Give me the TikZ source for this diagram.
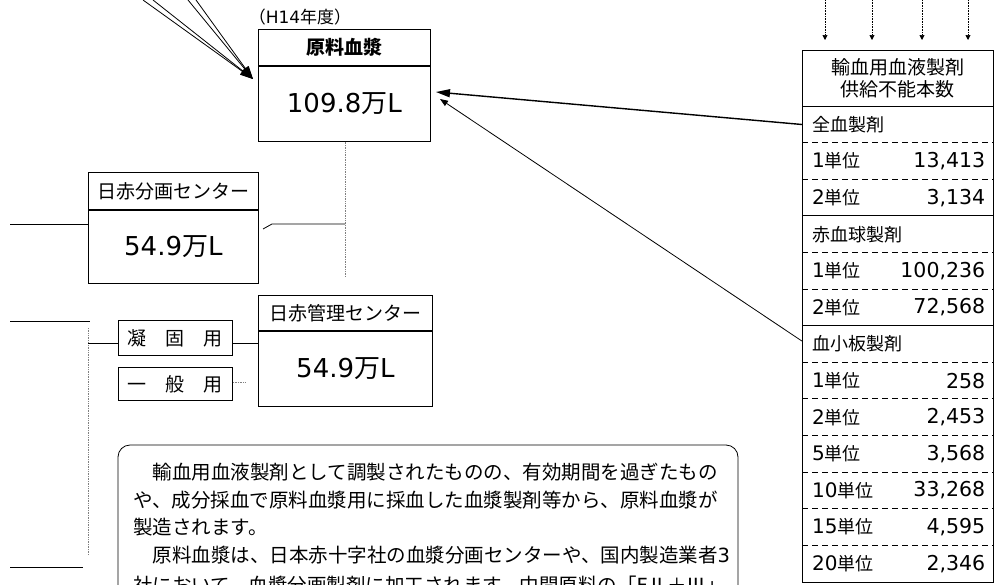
\documentclass[tikz,border=0pt]{standalone}
\usepackage{fontspec}
\setmainfont{Noto Sans CJK JP}
\newfontfamily\num{DejaVu Sans}
\usetikzlibrary{arrows.meta}
\tikzset{
  box/.style={draw, line width=0.8pt, inner sep=0pt, font=\fontsize{19}{22}\selectfont},
  big/.style={font=\fontsize{26}{30}\selectfont},
  cell/.style={inner sep=0pt, minimum width=191, minimum height=36.6, anchor=north west},
  celltext/.style={inner sep=0pt, font=\fontsize{18}{21}\selectfont},
  thinline/.style={line width=0.8pt},
  dots/.style={densely dotted, line width=0.7pt, gray},
  arr/.style={line width=0.8pt, -{Triangle[length=13pt,width=8pt]}},
  thickarr/.style={line width=1.4pt, -{Triangle[length=14pt,width=8pt]}},
  smallarr/.style={densely dotted, line width=0.6pt, -{Triangle[length=5pt,width=5pt]}},
  para/.style={anchor=west, inner sep=0pt, font=\fontsize{19.5}{23}\selectfont}
}
\begin{document}
\begin{tikzpicture}[x=1pt,y=-1pt]
\useasboundingbox (0,0) rectangle (999,584);
\fill[white] (0,0) rectangle (999,584);

% ---- main box 原料血漿
\node[inner sep=0pt, font=\fontsize{17}{19}\selectfont] (year) at (300,17) {（{\num H14}年度）};
\node[box, minimum width=172, minimum height=36, anchor=north west] (gh) at (258,29) {\bfseries 原料血漿};
\node[box, big, minimum width=172, minimum height=75, anchor=north] (gb) at (gh.south) {{\num 109.8}万{\num L}};

% ---- 日赤分画センター
\node[box, minimum width=170, minimum height=37, anchor=north west] (bh) at (88,172) {日赤分画センター};
\node[box, big, minimum width=170, minimum height=73, anchor=north] (bb) at (bh.south) {{\num 54.9}万{\num L}};

% ---- 日赤管理センター
\node[box, minimum width=174, minimum height=35, anchor=north west] (kh) at (258,295) {日赤管理センター};
\node[box, big, minimum width=174, minimum height=75, anchor=north] (kb) at (kh.south) {{\num 54.9}万{\num L}};

% ---- 凝固用 / 一般用
\node[box, minimum width=114, minimum height=35, anchor=north west] (gy) at (118,320) {凝\hspace{1em}固\hspace{1em}用};
\node[box, minimum width=114, minimum height=33, anchor=north west] (ip) at (118,367) {一\hspace{1em}般\hspace{1em}用};

% ---- table
\node[box, minimum width=191, minimum height=56, anchor=north west, align=center,
      font=\fontsize{19}{22}\selectfont] (th) at (802,50) {輸血用血液製剤\\供給不能本数};
\foreach \i/\a/\u/\b in {
  1//全血製剤/, 2/1/単位/13{,}413, 3/2/単位/3{,}134,
  4//赤血球製剤/, 5/1/単位/100{,}236, 6/2/単位/72{,}568,
  7//血小板製剤/, 8/1/単位/258, 9/2/単位/2{,}453, 10/5/単位/3{,}568,
  11/10/単位/33{,}268, 12/15/単位/4{,}595, 13/20/単位/2{,}346}{
  \node[cell] (r\i) at (802,{106+(\i-1)*36.6}) {};
  \node[celltext, anchor=west] (rl\i) at ([xshift=10]r\i.west) {{\num\fontsize{20}{22}\selectfont \a}\u};
  \node[celltext, anchor=east, font=\num\fontsize{20.5}{23}\selectfont] (rv\i) at ([xshift=-8]r\i.east) {\b};
}
\draw[thinline] (th.north west) rectangle (r13.south east);
\foreach \i in {1,4,7}{\draw[thinline] (r\i.north west) -- (r\i.north east);}
\foreach \i in {2,3,5,6,8,9,10,11,12,13}{\draw[thinline, dash pattern=on 6pt off 4pt] (r\i.north west) -- (r\i.north east);}

% ---- dotted arrows above table
\foreach \x [count=\k] in {825,872,922,968}{
  \coordinate (ts\k) at (\x,0);
  \coordinate (te\k) at (\x,40);
  \draw[smallarr] (ts\k) -- (te\k);
}

% ---- arrows into main box
\coordinate (tipA) at (253,79);
\foreach \x [count=\k] in {143,153,188,196}{
  \coordinate (sa\k) at (\x,0);
  \draw[arr] (sa\k) -- (tipA);
}
\coordinate (tipB) at (436,92);
\draw[thickarr] (r1.west) -- (tipB);
\coordinate (tipC) at (440,99);
\coordinate (r7a) at ([yshift=3]r7.west);
\draw[line width=0.8pt, -{Triangle[length=8pt,width=6pt]}] (r7a) -- (tipC);

% ---- dotted vertical from main box
\coordinate (dv) at (345,277);
\draw[dots] (gb.south -| dv) -- (dv);
\coordinate (m0) at (263,229);
\coordinate (m1) at (272,224);
\coordinate (m2) at (345,224);
\draw[thinline] (m0) -- (m1) -- (m2);

% ---- left lines
\coordinate (la) at (10,224);
\draw[thinline] (la) -- (la -| bb.west);
\coordinate (lb) at (10,321);
\coordinate (lb2) at (90,321);
\draw[thinline] (lb) -- (lb2);
\coordinate (dl1) at (88,328);
\coordinate (dl2) at (88,555);
\draw[dots] (dl1) -- (dl2);
\coordinate (lc) at (88,343);
\draw[thinline] (lc) -- (lc -| gy.west);
\draw[thinline] (gy.east |- lc) -- (lc -| kb.west);
\coordinate (ld) at (245,382);
\draw[dots] (ld -| ip.east) -- (ld);
\coordinate (le) at (10,567);
\coordinate (le2) at (83,567);
\draw[thinline] (le) -- (le2);

% ---- explanatory rounded box
\begin{scope}
\clip (0,0) rectangle (999,584);
\draw[thinline, rounded corners=12pt] (118,600) -- (118,445) -- (738,445) -- (738,600);
\node[para] (p1) at (133,472) {\hspace{1em}輸血用血液製剤として調製されたものの、有効期間を過ぎたもの};
\node[para] (p2) at (133,500) {や、成分採血で原料血漿用に採血した血漿製剤等から、原料血漿が};
\node[para] (p3) at (133,527) {製造されます。};
\node[para] (p4) at (133,555) {\hspace{1em}原料血漿は、日本赤十字社の血漿分画センターや、国内製造業者{\num 3}};
\node[para] (p5) at (133,585) {社において、血漿分画製剤に加工されます。中間原料の「{\num F}Ⅱ＋Ⅲ」};
\end{scope}
\end{tikzpicture}
\end{document}
